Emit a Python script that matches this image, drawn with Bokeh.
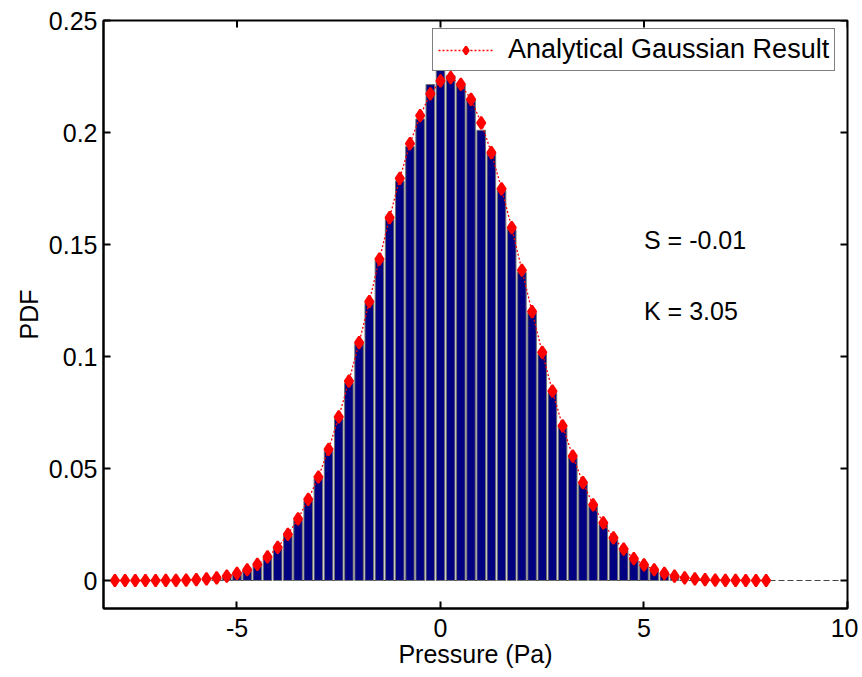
from bokeh.plotting import figure
from bokeh.models import (Range1d, FixedTicker, CustomJSTickFormatter,
                          Legend, LegendItem, Span, Label)
from bokeh.embed import file_html
from bokeh.resources import INLINE

# ---------------- data ----------------
pressure_bins = [-8.0, -7.75, -7.5, -7.25, -7.0, -6.75, -6.5, -6.25, -6.0, -5.75,
                 -5.5, -5.25, -5.0, -4.75, -4.5, -4.25, -4.0, -3.75, -3.5, -3.25,
                 -3.0, -2.75, -2.5, -2.25, -2.0, -1.75, -1.5, -1.25, -1.0, -0.75,
                 -0.5, -0.25, 0.0, 0.25, 0.5, 0.75, 1.0, 1.25, 1.5, 1.75,
                 2.0, 2.25, 2.5, 2.75, 3.0, 3.25, 3.5, 3.75, 4.0, 4.25,
                 4.5, 4.75, 5.0, 5.25, 5.5, 5.75, 6.0, 6.25, 6.5, 6.75,
                 7.0, 7.25, 7.5, 7.75, 8.0]
gaussian_pdf = [0.0000, 0.0000, 0.0000, 0.0000, 0.0000, 0.0001, 0.0001, 0.0002, 0.0004, 0.0007,
                0.0012, 0.0020, 0.0032, 0.0048, 0.0072, 0.0105, 0.0148, 0.0206, 0.0275, 0.0362,
                0.0462, 0.0585, 0.0730, 0.0890, 0.1062, 0.1245, 0.1435, 0.1620, 0.1795, 0.1950,
                0.2075, 0.2172, 0.2230, 0.2245, 0.2215, 0.2148, 0.2043, 0.1910, 0.1748, 0.1575,
                0.1385, 0.1200, 0.1018, 0.0845, 0.0690, 0.0555, 0.0437, 0.0338, 0.0257, 0.0190,
                0.0140, 0.0098, 0.0070, 0.0048, 0.0032, 0.0020, 0.0012, 0.0007, 0.0004, 0.0002,
                0.0001, 0.0001, 0.0000, 0.0000, 0.0000]

hist_bins = [-5.5, -5.25, -5.0, -4.75, -4.5, -4.25, -4.0, -3.75, -3.5, -3.25,
             -3.0, -2.75, -2.5, -2.25, -2.0, -1.75, -1.5, -1.25, -1.0, -0.75,
             -0.5, -0.25, 0.0, 0.25, 0.5, 0.75, 1.0, 1.25, 1.5, 1.75,
             2.0, 2.25, 2.5, 2.75, 3.0, 3.25, 3.5, 3.75, 4.0, 4.25,
             4.5, 4.75, 5.0, 5.25, 5.5, 5.75]
hist_pdf = [0.0008, 0.0015, 0.0027, 0.0043, 0.0068, 0.0100, 0.0143, 0.0200, 0.0268, 0.0355,
            0.0455, 0.0578, 0.0722, 0.0882, 0.1055, 0.1238, 0.1428, 0.1612, 0.1783, 0.1937,
            0.2060, 0.2214, 0.2278, 0.2254, 0.2210, 0.2150, 0.2010, 0.1905, 0.1741, 0.1567,
            0.1376, 0.1192, 0.1010, 0.0838, 0.0683, 0.0548, 0.0430, 0.0330, 0.0250, 0.0183,
            0.0133, 0.0092, 0.0065, 0.0043, 0.0028, 0.0016]

x_ticks = [-5, 0, 5, 10]
y_ticks = [0, 0.05, 0.1, 0.15, 0.2, 0.25]
legend_label = "Analytical Gaussian Result"
stat_texts = ["S = -0.01", "K = 3.05"]
x_label = "Pressure (Pa)"
y_label = "PDF"

FONT = "Liberation Sans"
X0, X1 = -8.28, 10
Y0, Y1 = -0.0125, 0.25
TICK_DX = 0.172     # 7 px in data units (x)
TICK_DY = 0.003125  # 7 px in data units (y)

p = figure(width=858, height=676,
           x_range=Range1d(X0, X1), y_range=Range1d(Y0, Y1),
           output_backend="svg", toolbar_location=None,
           min_border_left=103, min_border_top=20, min_border_right=11, min_border_bottom=68)
p.xgrid.visible = False
p.ygrid.visible = False
p.outline_line_color = "black"
p.outline_line_width = 2
p.background_fill_color = "white"

fmt = CustomJSTickFormatter(code="return String(Math.round(tick*100)/100);")

xa = p.xaxis[0]
xa.ticker = FixedTicker(ticks=x_ticks)
xa.formatter = fmt
xa.axis_label = x_label
ya = p.yaxis[0]
ya.ticker = FixedTicker(ticks=y_ticks)
ya.formatter = fmt
ya.axis_label = y_label
for ax in (xa, ya):
    ax.major_tick_in = 7
    ax.major_tick_out = 0
    ax.minor_tick_line_color = None
    ax.axis_line_width = 2
    ax.major_tick_line_width = 2
    ax.major_label_text_font = FONT
    ax.major_label_text_font_size = "25px"
    ax.major_label_text_color = "black"
    ax.axis_label_text_font = FONT
    ax.axis_label_text_font_size = "25px"
    ax.axis_label_text_font_style = "normal"
    ax.axis_label_text_color = "black"
xa.major_label_standoff = 10
xa.axis_label_standoff = 0
ya.major_label_standoff = 6
ya.axis_label_standoff = 3

# MATLAB-style box ticks on the top and right edges, at the same tick values
p.segment(x0=x_ticks, y0=[Y1] * len(x_ticks), x1=x_ticks, y1=[Y1 - TICK_DY] * len(x_ticks),
          line_color="black", line_width=2)
p.segment(x0=[X1] * len(y_ticks), y0=y_ticks, x1=[X1 - TICK_DX] * len(y_ticks), y1=y_ticks,
          line_color="black", line_width=2)

# baseline
p.add_layout(Span(location=0, dimension="width", line_color="#444444",
                  line_dash="6 3", line_width=1, level="underlay"))

# histogram bars
p.vbar(x=hist_bins, top=hist_pdf, bottom=0, width=0.21,
       fill_color="#000080", line_color="#707070", line_width=1)

# analytical gaussian
line_r = p.line(pressure_bins, gaussian_pdf, line_color="red", line_dash="2 2", line_width=1.3)
sc_r = p.scatter(pressure_bins, gaussian_pdf, marker="diamond", size=12,
                 fill_color="red", line_color="red", line_width=2.2)

legend = Legend(items=[LegendItem(label=legend_label, renderers=[line_r, sc_r])],
                location=(329, 537), padding=5, spacing=0, margin=0,
                glyph_width=55, glyph_height=20, label_standoff=15,
                label_text_font=FONT, label_text_font_size="27px", label_text_color="black",
                border_line_color="black", border_line_width=1, background_fill_alpha=1)
p.add_layout(legend)

p.add_layout(Label(x=5.0, y=0.152, text=stat_texts[0], text_baseline="middle",
                   text_font=FONT, text_font_size="25px", text_color="black"))
p.add_layout(Label(x=5.0, y=0.1205, text=stat_texts[1], text_baseline="middle",
                   text_font=FONT, text_font_size="25px", text_color="black"))

open("out.html", "w").write(file_html(p, INLINE))
